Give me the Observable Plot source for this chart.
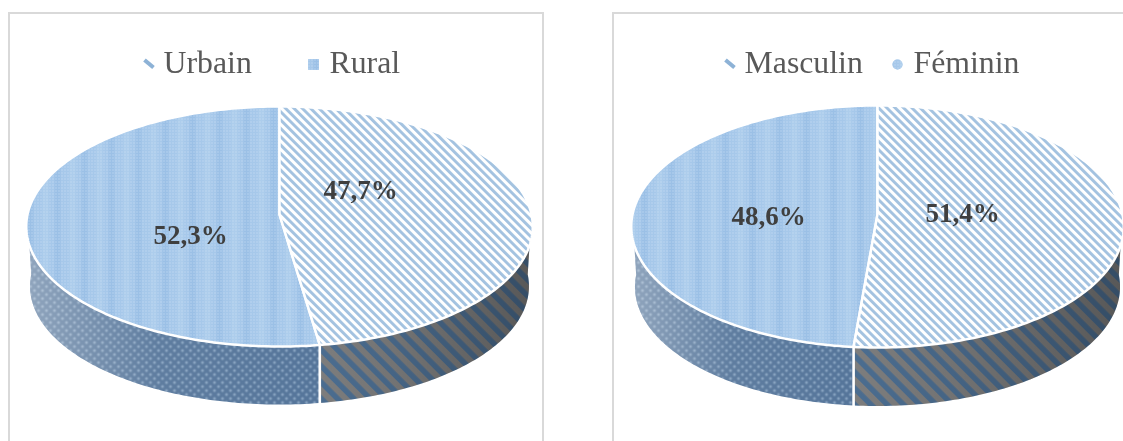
<!DOCTYPE html>
<html lang="fr">
<head>
<meta charset="utf-8">
<script src="https://cdn.jsdelivr.net/npm/d3@7"></script>
<script src="https://cdn.jsdelivr.net/npm/@observablehq/plot@0.6"></script>
<style>
html,body{margin:0;padding:0;background:#fff;}
#stage{position:relative;width:1123px;height:441px;overflow:hidden;background:#fff;}
.panel{position:absolute;top:12px;height:460px;box-sizing:border-box;border:2px solid #d9d9d9;}
.holder{position:absolute;top:0;}
.holder svg{display:block;filter:blur(0.45px);}
</style>
</head>
<body>
<div id="stage">
  <div class="panel" style="left:8px;width:536px"></div>
  <div class="panel" style="left:612px;width:560px"></div>
  <svg width="0" height="0" style="position:absolute" aria-hidden="true">
    <defs id="defs"></defs>
  </svg>
</div>
<script>
const leftCategories = ["Urbain", "Rural"];
const leftValues = [47.7, 52.3];
const rightCategories = ["Masculin", "Féminin"];
const rightValues = [51.4, 48.6];

// patterns
const defs = d3.select("#defs");
function stripes(id, period, width, bg, fg) {
  const p = defs.append("pattern").attr("id", id).attr("patternUnits", "userSpaceOnUse")
    .attr("width", period).attr("height", period).attr("patternTransform", "rotate(-45)");
  p.append("rect").attr("width", period).attr("height", period).attr("fill", bg);
  p.append("rect").attr("width", width).attr("height", period).attr("fill", fg);
}
stripes("topStripes", 5.9, 2.9, "#ffffff", "#a3c2e0");
stripes("wallStripes", 11.5, 5.5, "#7d7d7d", "#4b6d90");

const dotted = defs.append("pattern").attr("id", "topDots").attr("patternUnits", "userSpaceOnUse")
  .attr("width", 27).attr("height", 3);
dotted.append("rect").attr("width", 27).attr("height", 3).attr("fill", "#a6c8ea");
dotted.append("rect").attr("x", 0).attr("width", 6).attr("height", 3).attr("fill", "#9bc0e6");
dotted.append("rect").attr("x", 15).attr("width", 6).attr("height", 3).attr("fill", "#adcdec");
for (let i = 0; i < 9; i++) {
  dotted.append("rect").attr("x", i * 3 + 1).attr("y", 1).attr("width", 1).attr("height", 1)
    .attr("fill", "#d6e6f7").attr("fill-opacity", 0.8);
}

const wallDots = defs.append("pattern").attr("id", "wallDots").attr("patternUnits", "userSpaceOnUse")
  .attr("width", 8).attr("height", 8);
wallDots.append("rect").attr("width", 8).attr("height", 8).attr("fill", "#55759a");
wallDots.append("circle").attr("cx", 2).attr("cy", 2).attr("r", 1.5).attr("fill", "#84a0be");
wallDots.append("circle").attr("cx", 6).attr("cy", 6).attr("r", 1.5).attr("fill", "#84a0be");

function gradient(id, stops) {
  const g = defs.append("linearGradient").attr("id", id);
  for (const [o, c, a] of stops) {
    g.append("stop").attr("offset", o).attr("stop-color", c).attr("stop-opacity", a);
  }
}
gradient("lightLeft", [[0, "#ffffff", 0.35], [0.45, "#ffffff", 0.06], [1, "#ffffff", 0]]);
gradient("darkRight", [[0, "#000000", 0], [0.35, "#000000", 0.08], [1, "#000000", 0.3]]);

// tilted, slightly foreshortened disc
const tilt = 0.1;
const bottomScale = 0.985;
const depth = 0.505;
function rim(turn, scale = 1, drop = 0) {
  const a = turn * 2 * Math.PI;
  const u = Math.sin(a), v = -Math.cos(a), w = 1 - tilt * v;
  return {x: scale * u / w, y: scale * v / w + drop};
}
function turns(from, to) {
  const n = Math.max(2, Math.ceil(Math.abs(to - from) * 360));
  return d3.range(n + 1).map((i) => from + (to - from) * i / n);
}
function face(from, to) {
  const apex = {x: 0, y: 0};
  return [apex, ...turns(from, to).map((t) => rim(t)), apex];
}
function wall(from, to) {
  const upper = turns(from, to).map((t) => rim(t));
  const lower = turns(to, from).map((t) => rim(t, bottomScale, depth));
  return [...upper, ...lower, upper[0]];
}

function pie(cfg) {
  const [a, b] = cfg.values;
  const split = a / (a + b);
  const xPx = (p) => (p - cfg.x0) / cfg.rx - 1;
  const yPx = (p) => -0.909 + (p - cfg.y0) / ((cfg.y1 - cfg.y0) / 2.02);
  const leftWall = wall(split, 0.75);
  const rightWall = wall(0.25, split);
  const lineOpts = {x: "x", y: "y", curve: "linear"};
  const textFont = {fontFamily: "Liberation Serif"};
  const marks = [
    Plot.line(rightWall, {...lineOpts, fill: "url(#wallStripes)", stroke: "none"}),
    Plot.line(rightWall, {...lineOpts, fill: "url(#darkRight)", stroke: "none"}),
    Plot.line(leftWall, {...lineOpts, fill: "url(#wallDots)", stroke: "none"}),
    Plot.line(leftWall, {...lineOpts, fill: "url(#lightLeft)", stroke: "none"}),
    Plot.line([rim(split), rim(split, bottomScale, depth)], {
      x: () => rim(split).x,
      y: "y",
      stroke: "#ffffff",
      strokeWidth: 2.6
    }),
    Plot.line(face(split, 1), {...lineOpts, fill: "url(#topDots)", stroke: "#ffffff", strokeWidth: 2.5}),
    Plot.line(face(0, split), {...lineOpts, fill: "url(#topStripes)", stroke: "#ffffff", strokeWidth: 2.5}),
    Plot.text(cfg.values, {
      x: (d, i) => xPx(cfg.labelX[i]),
      y: (d, i) => yPx(cfg.labelY[i]),
      text: (d) => d.toFixed(1).replace(".", ",") + "%",
      fontSize: 27,
      fontWeight: "bold",
      fill: "#3f3f3f",
      ...textFont
    }),
    Plot.text(cfg.categories, {
      x: (d, i) => xPx(cfg.legendX[i]),
      y: () => yPx(62.5),
      text: (d) => d,
      textAnchor: "start",
      fontSize: 31.8,
      fill: "#595959",
      ...textFont
    }),
    Plot.link([cfg.categories[0]], {
      x1: () => xPx(cfg.keyWedge[0]),
      y1: () => yPx(59.5),
      x2: () => xPx(cfg.keyWedge[1]),
      y2: () => yPx(67),
      stroke: "#8db2d6",
      strokeWidth: 4
    }),
    Plot.dot([cfg.categories[1]], {
      x: () => xPx(cfg.keyDot),
      y: () => yPx(64),
      r: cfg.keyR,
      symbol: cfg.keySymbol,
      fill: "#a6c8ea",
      stroke: "none"
    }),
    Plot.dot([cfg.categories[1]], {
      x: () => xPx(cfg.keyDot),
      y: () => yPx(64),
      r: cfg.keyR,
      symbol: cfg.keySymbol,
      fill: "url(#topDots)",
      stroke: "none"
    })
  ];
  const svg = Plot.plot({
    width: cfg.width,
    height: 441,
    margin: 0,
    style: {background: "transparent", overflow: "visible"},
    x: {axis: null, domain: [-1, 1], range: [cfg.x0 - cfg.left, cfg.x0 - cfg.left + 2 * cfg.rx]},
    y: {axis: null, domain: [-0.909, 1.111], range: [cfg.y0, cfg.y1]},
    marks
  });
  const holder = document.createElement("div");
  holder.className = "holder";
  holder.style.left = cfg.left + "px";
  holder.appendChild(svg);
  document.getElementById("stage").appendChild(holder);
}

pie({
  categories: leftCategories, values: leftValues,
  left: 0, width: 560, x0: 27, rx: 252, y0: 106, y1: 346,
  labelX: [360, 190], labelY: [189.5, 235],
  legendX: [163, 329], keyWedge: [144, 153], keyDot: 313, keyR: 6, keySymbol: "square"
});
pie({
  categories: rightCategories, values: rightValues,
  left: 560, width: 563, x0: 632, rx: 245, y0: 105, y1: 347,
  labelX: [962, 768], labelY: [212.5, 216],
  legendX: [744, 913], keyWedge: [725, 734], keyDot: 897, keyR: 5, keySymbol: "circle"
});
</script>
</body>
</html>
